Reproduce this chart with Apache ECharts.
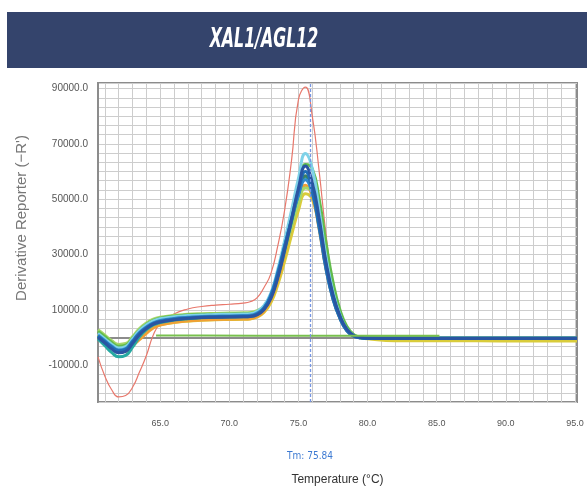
<!DOCTYPE html>
<html lang="en">
<head>
<meta charset="UTF-8">
<title>XAL1/AGL12 melt curve</title>
<script src="https://cdn.jsdelivr.net/npm/echarts@6/dist/echarts.min.js"></script>
<style>
  html, body { margin: 0; padding: 0; background: #fff; }
  #main { width: 587px; height: 486px; }
</style>
</head>
<body>
<div id="main"></div>
<script>
// temperatures (°C) where each melt curve was read
var temps = [60.5, 61, 61.5, 62, 62.5, 63, 63.5, 64, 64.5, 65, 66, 67, 68, 69, 70, 71, 71.5, 72, 72.5, 73,
             73.5, 74, 74.5, 75, 75.5, 76, 76.5, 77, 77.5, 78, 78.5, 79, 79.5, 80, 82, 85, 88, 91, 95.15];

// derivative reporter values, one array per well
var redWell = [-7000, -14000, -19000, -21500, -21000, -18000, -12500, -6500, 900, 5000, 8500, 10300, 11200, 11700, 12000, 12400, 12900, 14300, 18000, 23000,
               33000, 46000, 64000, 86000, 90500, 80000, 60000, 37000, 19000, 8000, 2500, 300, -200, -100, 0, 0, 0, 0, 0];
var yellowWell = [1000, -1200, -3300, -4500, -4200, -1800, 800, 2500, 3800, 4600, 5400, 5900, 6200, 6400, 6500, 6600, 6700, 7400, 9000, 12500,
                  19000, 27500, 37000, 46000, 52000, 50000, 40000, 26000, 15000, 7500, 2800, 600, -100, -500, -1200, -1200, -1200, -1300, -1300];
var orangeWell = [0, -2000, -4000, -5200, -5000, -3000, -800, 1500, 3400, 4500, 5500, 6000, 6300, 6500, 6600, 6700, 6800, 7600, 9400, 13500,
                  20500, 30000, 40000, 49500, 55000, 51000, 39000, 24500, 14000, 7000, 2500, 500, -100, -300, -300, -300, -300, -300, -300];
var lightGreenWell = [2800, 800, -1200, -2500, -2200, 300, 3200, 5200, 6600, 7300, 8000, 8400, 8600, 8700, 8800, 8900, 9000, 9700, 11300, 15000,
                      22000, 31000, 40000, 48500, 54000, 52500, 42500, 28500, 17000, 8800, 3500, 900, 100, -200, -300, -300, -300, -300, -300];
var greenWell = [2200, 300, -1800, -3200, -2800, -300, 2600, 4700, 6200, 7000, 7700, 8100, 8300, 8400, 8500, 8600, 8700, 9300, 11000, 14800,
                 22000, 31500, 42000, 53500, 62500, 61000, 50000, 34000, 20000, 10000, 4000, 1000, 100, -200, -300, -300, -300, -300, -300];
var cyanWell = [1500, -500, -2500, -3800, -3300, -500, 2500, 4500, 6000, 6800, 7500, 7900, 8100, 8300, 8400, 8500, 8600, 9400, 11500, 16000,
                24500, 35000, 46000, 57500, 66500, 61000, 46000, 29000, 16500, 8200, 3000, 700, 0, -200, -300, -300, -300, -300, -300];
var tealWell = [-500, -3000, -5500, -7000, -6500, -3500, 200, 2800, 4500, 5400, 6300, 6800, 7100, 7300, 7400, 7500, 7600, 8300, 10200, 14500,
                22000, 32000, 42000, 51500, 58000, 53000, 41000, 26000, 15000, 7500, 2800, 600, -100, -300, -300, -300, -300, -300, -300];
var oliveWell = [300, -1700, -3800, -5000, -4600, -1800, 1200, 3300, 4900, 5700, 6500, 6900, 7200, 7400, 7500, 7600, 7700, 8400, 10300, 14500,
                 22500, 32500, 42500, 52000, 58500, 54000, 41500, 26000, 14800, 7400, 2700, 600, 0, -300, -300, -300, -300, -300, -300];
var blueWell = [800, -1200, -3200, -4500, -4000, -1200, 1800, 3800, 5300, 6100, 6900, 7300, 7600, 7700, 7800, 7900, 8000, 8800, 10800, 15500,
                23500, 33000, 42500, 51500, 57000, 52000, 39500, 24500, 13800, 6900, 2400, 500, -100, -300, -300, -300, -300, -300, -300];
var midBlueWell = [500, -1500, -3500, -4800, -4300, -1500, 1500, 3500, 5000, 5800, 6600, 7000, 7300, 7500, 7600, 7600, 7700, 8500, 10500, 15000,
                   23000, 33000, 43000, 53000, 60000, 53000, 40000, 25000, 14000, 7000, 2500, 500, -100, -300, -300, -300, -300, -300, -300];
var darkBlueWell = [0, -2000, -4200, -5500, -5000, -2200, 1000, 3200, 4800, 5600, 6400, 6900, 7200, 7300, 7400, 7500, 7600, 8200, 10000, 14000,
                    21500, 31500, 42500, 54000, 62000, 56000, 43000, 27000, 15500, 7800, 3000, 700, 0, -300, -400, -400, -400, -400, -400];

// no-template control, flat line
var ntcTemps = [64.7, 68, 72, 76, 80, 83, 85.2];
var ntcValues = [700, 700, 650, 650, 650, 600, 600];

var tmValue = 75.84;
var yLabels = [-10000, 10000, 30000, 50000, 70000, 90000];
var xLabels = [65, 70, 75, 80, 85, 90, 95];

var narrowFont = '"Liberation Sans Narrow", "DejaVu Sans Condensed", "Liberation Sans", sans-serif';

var chart = echarts.init(document.getElementById('main'));

function pairs(xs, ys) {
    var out = [];
    for (var i = 0; i < xs.length; i++) out.push([xs[i], ys[i]]);
    return out;
}

var wells = [
    { name: 'red', data: redWell, color: '#e8786c', width: 1.2 },
    { name: 'yellow', data: yellowWell, color: '#d9cc3a', width: 3 },
    { name: 'orange', data: orangeWell, color: '#f0a035', width: 3 },
    { name: 'lightgreen', data: lightGreenWell, color: '#a6d66a', width: 3 },
    { name: 'green', data: greenWell, color: '#62bc4c', width: 3 },
    { name: 'cyan', data: cyanWell, color: '#7fd2e8', width: 3 },
    { name: 'teal', data: tealWell, color: '#27a9a2', width: 3 },
    { name: 'olive', data: oliveWell, color: '#3f7f62', width: 3 },
    { name: 'blue', data: blueWell, color: '#3088cc', width: 3 },
    { name: 'midblue', data: midBlueWell, color: '#1f6db5', width: 3 },
    { name: 'darkblue', data: darkBlueWell, color: '#2a55a2', width: 3 }
];

var series = [];
for (var k = 0; k < wells.length; k++) {
    series.push({
        name: wells[k].name,
        type: 'line',
        data: pairs(temps, wells[k].data),
        smooth: true,
        showSymbol: false,
        lineStyle: { color: wells[k].color, width: wells[k].width }
    });
}
series.push({
    name: 'ntc',
    type: 'line',
    data: pairs(ntcTemps, ntcValues),
    showSymbol: false,
    lineStyle: { color: '#78c04e', width: 2 },
    markLine: {
        silent: true,
        symbol: 'none',
        lineStyle: { color: '#7796e2', width: 1.3, type: [3, 2] },
        label: {
            show: true,
            position: 'start',
            distance: 49,
            formatter: 'Tm: ' + tmValue,
            color: '#3d7ad2',
            fontSize: 10,
            fontFamily: narrowFont
        },
        data: [{ xAxis: tmValue }]
    }
});

var option = {
    animation: false,
    backgroundColor: '#fff',
    grid: {
        left: 98, right: 10, top: 83, bottom: 84,
        outerBoundsMode: 'none',
        show: true, backgroundColor: '#fff',
        borderColor: '#8c8c8c', borderWidth: 2
    },
    graphic: [
        { type: 'rect', left: 7, top: 12, shape: { width: 580, height: 56 }, style: { fill: '#34446c' } },
        {
            type: 'text', x: 264, y: 40, scaleX: 0.8, scaleY: 1.2,
            style: {
                text: 'XAL1/AGL12', fill: '#fff',
                font: 'italic bold 22px ' + narrowFont,
                align: 'center', verticalAlign: 'middle'
            }
        },
        {
            type: 'text', x: 22, y: 218, rotation: Math.PI / 2,
            style: {
                text: "Derivative Reporter (\u2212R')", fill: '#777',
                font: '15px "Liberation Sans", sans-serif',
                align: 'center', verticalAlign: 'middle'
            }
        }
    ],
    xAxis: {
        type: 'value',
        min: 60.5,
        max: 95.15,
        interval: 0.5,
        name: 'Temperature (\u00b0C)',
        nameLocation: 'middle',
        nameGap: 72,
        nameTextStyle: { color: '#333', fontSize: 12, fontFamily: 'Liberation Sans' },
        axisLine: { show: true, lineStyle: { color: '#8c8c8c', width: 2 } },
        axisTick: { show: false },
        axisLabel: {
            margin: 17,
            color: '#555',
            fontSize: 9,
            fontFamily: 'Liberation Sans',
            formatter: function (v) {
                return xLabels.indexOf(v) >= 0 ? v.toFixed(1) : '';
            }
        },
        splitLine: { show: true, lineStyle: { color: ['rgba(0,0,0,0)', '#cdcdcd'], width: 1 } }
    },
    yAxis: {
        type: 'value',
        min: -70000 / 3,
        max: 92000,
        interval: 20000 / 6,
        axisLine: { show: true, lineStyle: { color: '#8c8c8c', width: 2 } },
        axisTick: { show: false },
        axisLabel: {
            margin: 10,
            color: '#555',
            fontSize: 10,
            fontFamily: 'Liberation Sans',
            formatter: function (v) {
                var r = Math.round(v);
                return yLabels.indexOf(r) >= 0 ? r.toFixed(1) : '';
            }
        },
        splitLine: { show: true, lineStyle: { color: '#cdcdcd', width: 1 } }
    },
    series: series
};

chart.setOption(option);
</script>
</body>
</html>
